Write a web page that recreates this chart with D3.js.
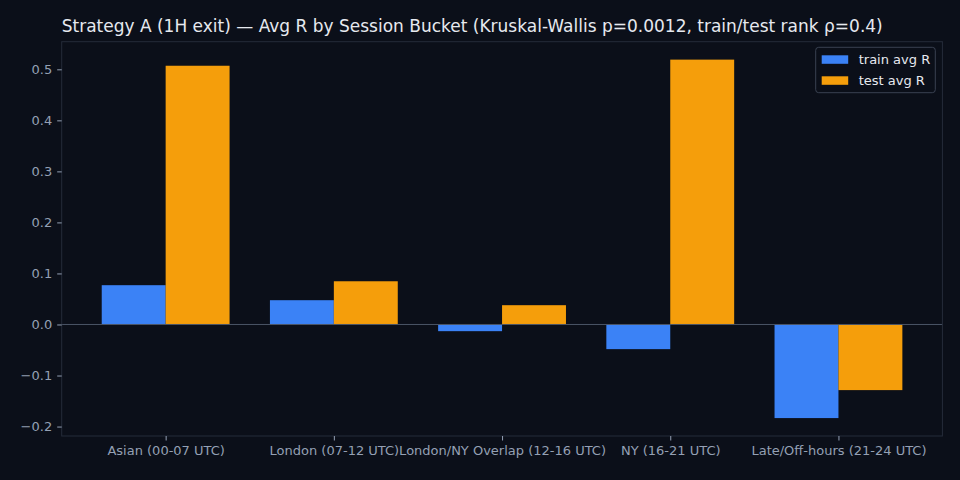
<!DOCTYPE html>
<html>
<head>
<meta charset="utf-8">
<script src="https://cdn.jsdelivr.net/npm/d3@7"></script>
<style>
  html, body { margin: 0; padding: 0; background: #0b0f19; }
  svg { display: block; font-family: "DejaVu Sans", sans-serif; }
</style>
</head>
<body>
<div id="chart"></div>
<script>
// Session buckets and their avg R values
const sessions = ['Asian (00-07 UTC)', 'London (07-12 UTC)', 'London/NY Overlap (12-16 UTC)', 'NY (16-21 UTC)', 'Late/Off-hours (21-24 UTC)'];
const trainAvgR = [0.077, 0.0476, -0.0131, -0.0483, -0.1834];
const testAvgR = [0.507, 0.0847, 0.0378, 0.519, -0.1286];
const yTicks = [-0.2, -0.1, 0.0, 0.1, 0.2, 0.3, 0.4, 0.5];
const seriesNames = ['train avg R', 'test avg R'];

const width = 960, height = 480;
const margin = { top: 41.7, right: 17.6, bottom: 44, left: 61.7 };
const barW = 0.38;
const colors = ['#3b82f6', '#f59e0b'];

const svg = d3.select('#chart').append('svg')
  .attr('width', width)
  .attr('height', height);

svg.append('rect').attr('width', width).attr('height', height).attr('fill', '#0b0f19');

// x is numeric like matplotlib, categories at 0..4
const x = d3.scaleLinear()
  .domain([-0.618, sessions.length - 1 + 0.618])
  .range([margin.left, width - margin.right]);

const allVals = trainAvgR.concat(testAvgR);
const yMin = d3.min(allVals), yMax = d3.max(allVals);
const pad = (yMax - yMin) * 0.05;
const y = d3.scaleLinear()
  .domain([yMin - pad, yMax + pad])
  .range([height - margin.bottom, margin.top]);

// Title
svg.append('text')
  .attr('x', margin.left)
  .attr('y', 32)
  .attr('fill', '#e6e9ef')
  .attr('font-size', '17px')
  .text('Strategy A (1H exit) \u2014 Avg R by Session Bucket (Kruskal-Wallis p=0.0012, train/test rank \u03c1=0.4)');

// Bars
const series = [trainAvgR, testAvgR];
series.forEach((vals, si) => {
  svg.selectAll('rect.bar-' + si)
    .data(vals)
    .join('rect')
    .attr('class', 'bar-' + si)
    .attr('x', (d, i) => x(i + (si === 0 ? -barW : 0)))
    .attr('width', x(barW) - x(0))
    .attr('y', d => y(Math.max(0, d)))
    .attr('height', d => Math.abs(y(d) - y(0)))
    .attr('fill', colors[si]);
});

// Zero line
svg.append('line')
  .attr('x1', margin.left).attr('x2', width - margin.right)
  .attr('y1', y(0)).attr('y2', y(0))
  .attr('stroke', '#4b5566')
  .attr('stroke-width', 1);

// Frame
svg.append('rect')
  .attr('x', margin.left).attr('y', margin.top)
  .attr('width', width - margin.left - margin.right)
  .attr('height', height - margin.top - margin.bottom)
  .attr('fill', 'none')
  .attr('stroke', '#252c3a')
  .attr('stroke-width', 1);

// Axes
const xAxis = d3.axisBottom(x)
  .tickValues(d3.range(sessions.length))
  .tickFormat(i => sessions[i])
  .tickSize(4.5)
  .tickPadding(5);
const xg = svg.append('g')
  .attr('transform', `translate(0,${height - margin.bottom})`)
  .call(xAxis);

const yAxis = d3.axisLeft(y)
  .tickValues(yTicks)
  .tickFormat(d3.format('.1f'))
  .tickSize(4.5)
  .tickPadding(5);
const yg = svg.append('g')
  .attr('transform', `translate(${margin.left},0)`)
  .call(yAxis);

[xg, yg].forEach(g => {
  g.select('.domain').remove();
  g.selectAll('.tick line').attr('stroke', '#94a0b4');
  g.selectAll('.tick text')
    .attr('fill', '#94a0b4')
    .attr('font-size', '13px')
    .attr('font-family', '"DejaVu Sans", sans-serif');
});

// Legend
const lg = svg.append('g').attr('transform', 'translate(815.7,47.3)');
lg.append('rect')
  .attr('width', 119.6).attr('height', 45.4)
  .attr('rx', 3)
  .attr('fill', '#0b0f19')
  .attr('stroke', '#3a4252')
  .attr('stroke-width', 1);
seriesNames.forEach((name, i) => {
  lg.append('rect')
    .attr('x', 6).attr('y', 8 + i * 21)
    .attr('width', 26.5).attr('height', 8.5)
    .attr('fill', colors[i]);
  lg.append('text')
    .attr('x', 43).attr('y', 16.5 + i * 21)
    .attr('fill', '#e6e9ef')
    .attr('font-size', '13px')
    .text(name);
});
</script>
</body>
</html>
